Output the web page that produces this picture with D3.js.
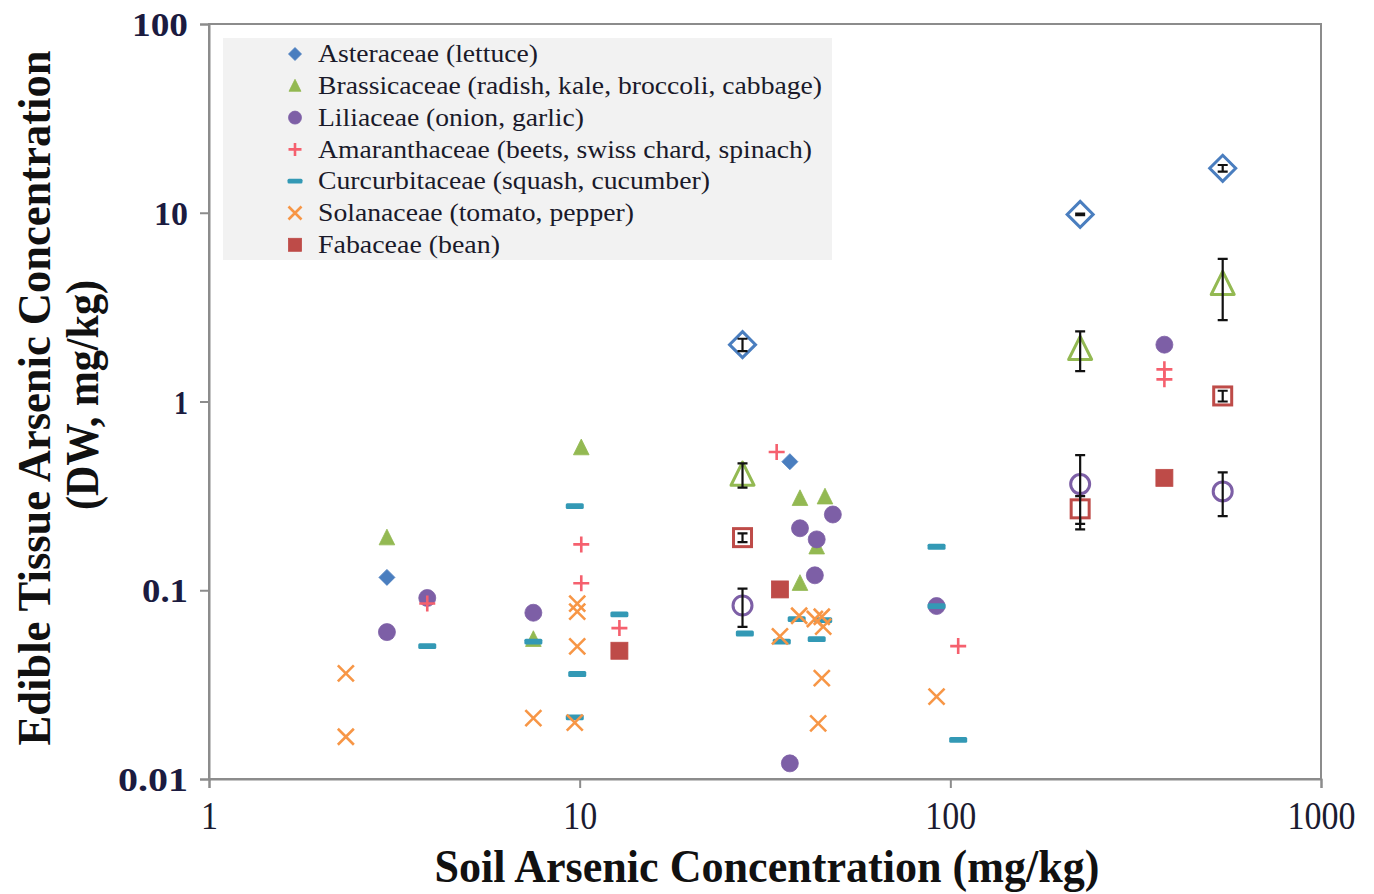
<!DOCTYPE html>
<html>
<head>
<meta charset="utf-8">
<script src="https://cdn.jsdelivr.net/npm/d3@7"></script>
<style>
  html, body { margin: 0; padding: 0; background: #ffffff; }
  svg { display: block; }
</style>
</head>
<body>
<svg id="chart" width="1374" height="894"></svg>
<script>
// ---------- DATA ----------
const xTicks = [1, 10, 100, 1000];
const yTicks = [0.01, 0.1, 1, 10, 100];
const xTitle = "Soil Arsenic Concentration (mg/kg)";
const yTitle1 = "Edible Tissue Arsenic Concentration";
const yTitle2 = "(DW, mg/kg)";

const families = ["Asteraceae (lettuce)", "Brassicaceae (radish, kale, broccoli, cabbage)",
  "Liliaceae (onion, garlic)", "Amaranthaceae (beets, swiss chard, spinach)",
  "Curcurbitaceae (squash, cucumber)", "Solanaceae (tomato, pepper)", "Fabaceae (bean)"];
const shapes = ["diamond", "triangle", "circle", "plus", "dash", "cross", "square"];
const colors = ["#4a7ebf", "#93b952", "#7d5fa6", "#f5606e", "#3399b5", "#f79646", "#be4b48"];

// individual samples [soil As, tissue As]
const asteraceae = [[3.02, 0.117], [36.9, 0.48]];
const brassicaceae = [[3.02, 0.19], [7.5, 0.055], [10.1, 0.57], [39.3, 0.307], [45.9, 0.313],
  [43.6, 0.170], [39.3, 0.109]];
const liliaceae = [[3.02, 0.060], [3.88, 0.091], [7.5, 0.076], [48.2, 0.252], [39.3, 0.213],
  [43.6, 0.186], [43.1, 0.120], [36.9, 0.0121], [91.8, 0.0825], [378, 2.0]];
const amaranthaceae = [[3.88, 0.085], [10.1, 0.175], [10.1, 0.109], [12.8, 0.063], [34.0, 0.54],
  [105, 0.0506], [378, 1.48], [378, 1.31]];
const curcurbitaceae = [[3.88, 0.0506], [7.5, 0.0534], [9.7, 0.279], [9.85, 0.036], [9.7, 0.0212],
  [12.8, 0.0745], [27.9, 0.059], [35.1, 0.0534], [38.5, 0.0704], [45.4, 0.0695], [43.6, 0.0551],
  [91.8, 0.170], [91.8, 0.0825], [105, 0.0161]];
const solanaceae = [[2.34, 0.0363], [2.34, 0.01675], [7.5, 0.021], [9.85, 0.085], [9.85, 0.077],
  [9.85, 0.0504], [9.7, 0.0199], [34.7, 0.057], [39.1, 0.0733], [43.1, 0.0704], [45.0, 0.0724],
  [45.4, 0.0641], [45.0, 0.0342], [44.0, 0.0197], [91.8, 0.0273]];
const fabaceae = [[12.8, 0.0478], [34.7, 0.101], [378, 0.394]];

// means with standard deviation [soil As, mean, sd]
const asteraceaeMeans = [[27.5, 2.0, 0.15], [224, 9.8, 0.1], [543, 17.2, 0.7]];
const brassicaceaeMeans = [[27.5, 0.41, 0.06], [224, 1.9, 0.45], [543, 4.2, 1.5]];
const liliaceaeMeans = [[27.5, 0.083, 0.019], [224, 0.365, 0.155], [543, 0.334, 0.087]];
const fabaceaeMeans = [[27.5, 0.19, 0.01], [224, 0.27, 0.045], [543, 1.07, 0.07]];

const samples = [asteraceae, brassicaceae, liliaceae, amaranthaceae, curcurbitaceae, solanaceae, fabaceae];
const means = [[0, asteraceaeMeans], [1, brassicaceaeMeans], [2, liliaceaeMeans], [6, fabaceaeMeans]];

// ---------- CHART ----------
const svg = d3.select("#chart");
const x = d3.scaleLog().domain([1, 1000]).range([209, 1321]);
const y = d3.scaleLog().domain([0.01, 100]).range([779, 24]);
const axisColor = "#8c8c8c";
const serif = "'Liberation Serif', 'Times New Roman', serif";

// frame
svg.append("rect").attr("x", x(1)).attr("y", y(100))
  .attr("width", x(1000) - x(1)).attr("height", y(0.01) - y(100))
  .attr("fill", "none").attr("stroke", axisColor).attr("stroke-width", 2);

// axes
const gx = svg.append("g").attr("transform", `translate(0,${y(0.01)})`)
  .call(d3.axisBottom(x).tickValues(xTicks).tickFormat(d3.format("~g")).tickSize(9).tickPadding(12));
const gy = svg.append("g").attr("transform", `translate(${x(1)},0)`)
  .call(d3.axisLeft(y).tickValues(yTicks).tickFormat(d3.format("~g")).tickSize(9).tickPadding(12));
[gx, gy].forEach(g => {
  g.select(".domain").attr("stroke", axisColor).attr("stroke-width", 2);
  g.selectAll(".tick line").attr("stroke", axisColor).attr("stroke-width", 2);
});
gx.selectAll(".tick text").attr("font-family", serif).attr("font-size", 40)
  .attr("fill", "#1b1b30").attr("dy", "0.72em")
  .attr("textLength", d => String(d).length * 17).attr("lengthAdjust", "spacingAndGlyphs");
gy.selectAll(".tick text").attr("font-family", serif).attr("font-size", 34).attr("font-weight", "bold")
  .attr("fill", "#1b1b40").attr("dy", "0.34em")
  .attr("textLength", d => ({0.01: 70, 0.1: 46, 1: 14, 10: 34, 100: 56})[d])
  .attr("lengthAdjust", "spacingAndGlyphs");

// titles
svg.append("text").attr("x", 767).attr("y", 882).attr("text-anchor", "middle")
  .attr("font-family", serif).attr("font-size", 46).attr("font-weight", "bold").attr("fill", "#111")
  .attr("textLength", 665).attr("lengthAdjust", "spacingAndGlyphs").text(xTitle);
svg.append("text").attr("transform", "translate(50,398) rotate(-90)").attr("text-anchor", "middle")
  .attr("font-family", serif).attr("font-size", 46).attr("font-weight", "bold").attr("fill", "#111")
  .attr("textLength", 695).attr("lengthAdjust", "spacingAndGlyphs").text(yTitle1);
svg.append("text").attr("transform", "translate(98,395) rotate(-90)").attr("text-anchor", "middle")
  .attr("font-family", serif).attr("font-size", 46).attr("font-weight", "bold").attr("fill", "#111")
  .attr("textLength", 230).attr("lengthAdjust", "spacingAndGlyphs").text(yTitle2);

// marker drawing
function marker(g, shape, color, s, open) {
  const sw = open ? 3 : 2.6;
  const fill = open ? "#fff" : color;
  const strokeW = open ? sw : 0.8;
  switch (shape) {
    case "diamond":
      g.append("path").attr("d", `M0,${-s}L${s},0L0,${s}L${-s},0Z`)
        .attr("fill", fill).attr("stroke", color).attr("stroke-width", strokeW);
      break;
    case "triangle":
      g.append("path").attr("d", `M0,${-s}L${s * 0.92},${s * 0.85}L${-s * 0.92},${s * 0.85}Z`)
        .attr("fill", fill).attr("stroke", color).attr("stroke-width", strokeW).attr("stroke-linejoin", "round");
      break;
    case "circle":
      g.append("circle").attr("r", s).attr("fill", fill).attr("stroke", color).attr("stroke-width", strokeW);
      break;
    case "square":
      g.append("rect").attr("x", -s).attr("y", -s).attr("width", 2 * s).attr("height", 2 * s)
        .attr("fill", fill).attr("stroke", color).attr("stroke-width", strokeW);
      break;
    case "plus":
      g.append("path").attr("d", `M${-s},0H${s}M0,${-s}V${s}`)
        .attr("stroke", color).attr("stroke-width", sw).attr("fill", "none");
      break;
    case "cross":
      g.append("path").attr("d", `M${-s},${-s}L${s},${s}M${-s},${s}L${s},${-s}`)
        .attr("stroke", color).attr("stroke-width", sw).attr("fill", "none");
      break;
    case "dash":
      g.append("rect").attr("x", -s).attr("y", -s * 0.32).attr("width", 2 * s).attr("height", s * 0.64)
        .attr("rx", 1.5).attr("fill", color);
      break;
  }
}
const fillSize = {diamond: 8, triangle: 8.5, circle: 8.5, square: 8.5, plus: 8, cross: 8, dash: 9};
const openSize = {diamond: 13, triangle: 12.5, circle: 9.5, square: 9};

// legend
const legend = svg.append("g");
legend.append("rect").attr("x", 223).attr("y", 38).attr("width", 609).attr("height", 222).attr("fill", "#f2f2f2");
const legendW = [220, 504, 266, 494, 392, 316, 182];
families.forEach((name, i) => {
  const ly = 54 + i * 31.8;
  const mg = legend.append("g").attr("transform", `translate(295,${ly})`);
  marker(mg, shapes[i], colors[i], shapes[i] === "dash" ? 7.5 : 6.5, false);
  legend.append("text").attr("x", 318).attr("y", ly).attr("dy", "0.33em")
    .attr("font-family", serif).attr("font-size", 25).attr("fill", "#1a1a2a")
    .attr("textLength", legendW[i]).attr("lengthAdjust", "spacingAndGlyphs").text(name);
});

// sample points
samples.forEach((pts, i) => {
  const g = svg.append("g");
  pts.forEach(p => {
    const mg = g.append("g").attr("transform", `translate(${x(p[0])},${y(p[1])})`);
    marker(mg, shapes[i], colors[i], fillSize[shapes[i]], false);
  });
});

// means with error bars
means.forEach(([i, pts]) => {
  const g = svg.append("g");
  pts.forEach(p => {
    const cx = x(p[0]);
    const mg = g.append("g").attr("transform", `translate(${cx},${y(p[1])})`);
    marker(mg, shapes[i], colors[i], openSize[shapes[i]], true);
    const y0 = y(p[1] + p[2]), y1 = y(Math.max(p[1] - p[2], 0.0001));
    g.append("path").attr("d", `M${cx},${y0}V${y1}M${cx - 5},${y0}H${cx + 5}M${cx - 5},${y1}H${cx + 5}`)
      .attr("stroke", "#111").attr("stroke-width", 2.2).attr("fill", "none");
  });
});
</script>
</body>
</html>
